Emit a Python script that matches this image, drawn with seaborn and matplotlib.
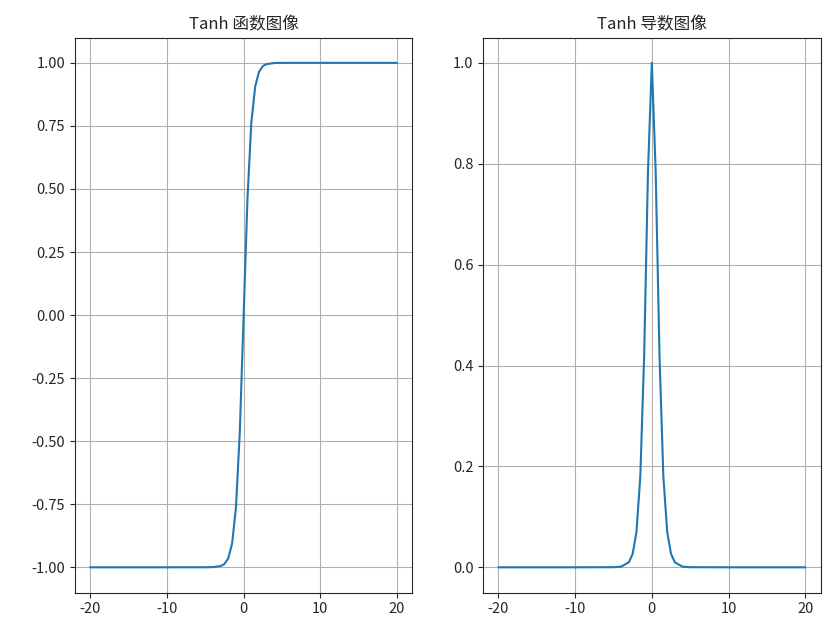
import matplotlib
matplotlib.use("Agg")
import matplotlib.pyplot as plt
import seaborn as sns
import pandas as pd

sns.set_style("ticks")
plt.rcParams['font.family'] = ['Noto Sans CJK SC', 'DejaVu Sans']
plt.rcParams['axes.unicode_minus'] = False

x = [-20, -10, -5, -4, -3, -2.5, -2, -1.5, -1, -0.5, 0, 0.5, 1, 1.5, 2, 2.5, 3, 4, 5, 10, 20]
tanh_y = [-1.0, -1.0, -0.9999, -0.9993, -0.995, -0.987, -0.964, -0.905, -0.762, -0.462, 0.0,
          0.462, 0.762, 0.905, 0.964, 0.987, 0.995, 0.9993, 0.9999, 1.0, 1.0]
deriv_y = [0.0, 0.0, 0.0002, 0.0013, 0.0099, 0.0266, 0.0707, 0.181, 0.42, 0.786, 1.0,
           0.786, 0.42, 0.181, 0.0707, 0.0266, 0.0099, 0.0013, 0.0002, 0.0, 0.0]
titles = ["Tanh 函数图像", "Tanh 导数图像"]

df = pd.DataFrame({"x": x, "tanh": tanh_y, "deriv": deriv_y})

fig, axes = plt.subplots(1, 2, figsize=(8.33, 6.27), dpi=100)
for ax, col, t in zip(axes, ["tanh", "deriv"], titles):
    sns.lineplot(data=df, x="x", y=col, ax=ax, color="#1f77b4", linewidth=1.5)
    ax.set_title(t, fontsize=12)
    ax.set_xlabel("")
    ax.set_ylabel("")
    ax.grid(True, color="#b0b0b0", linewidth=0.8)
    ax.set_xticks([-20, -10, 0, 10, 20])
    ax.tick_params(labelsize=10.5)
axes[0].set_yticks([-1.0, -0.75, -0.5, -0.25, 0.0, 0.25, 0.5, 0.75, 1.0])
fig.subplots_adjust(left=0.09, right=0.985, top=0.94, bottom=0.055, wspace=0.21)
fig.savefig("out.png", dpi=100)
